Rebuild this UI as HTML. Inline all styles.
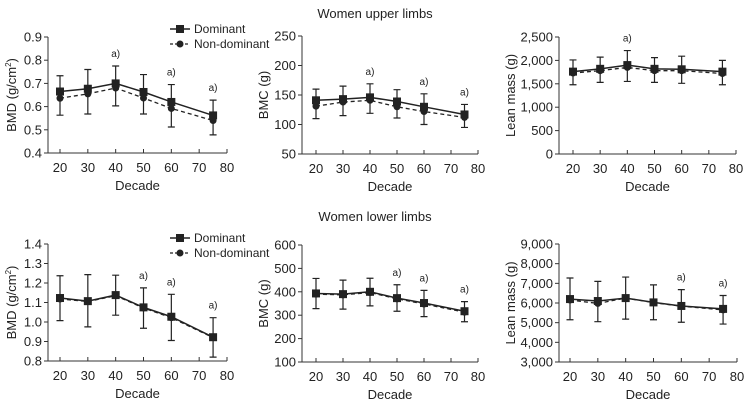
<!DOCTYPE html>
<html><head><meta charset="utf-8"><style>
body{margin:0;background:#fff}
svg{display:block;font-family:"Liberation Sans Narrow","Liberation Sans",sans-serif;fill:#222}
</style></head><body>
<svg id="c" width="750" height="404" viewBox="0 0 750 404">
<text x="375" y="18" text-anchor="middle" font-size="13">Women upper limbs</text>
<text x="375" y="221" text-anchor="middle" font-size="13">Women lower limbs</text>
</svg>
<script>
const decades=[20,30,40,50,60,75];
const xTicks=[20,30,40,50,60,70,80];
// upper BMD
const p1Dom=[.665,.677,.700,.663,.620,.562], p1DomSd=[.068,.083,.075,.075,.075,.066];
const p1Nd=[.636,.655,.680,.637,.592,.540], p1NdSd=[.073,.087,.077,.069,.080,.062];
const p1Ticks=[0.4,0.5,0.6,0.7,0.8,0.9], p1Labels=["0.4","0.5","0.6","0.7","0.8","0.9"], p1Sig=[40,60,75];
// upper BMC
const p2Dom=[141,143,146,139,130,117], p2DomSd=[19,22,23,20,22,17];
const p2Nd=[131,138,141,130,122,112], p2NdSd=[21,23,22,19,22,17];
const p2Ticks=[50,100,150,200,250], p2Labels=["50","100","150","200","250"], p2Sig=[40,60,75];
// upper lean
const p3Dom=[1760,1820,1900,1820,1810,1760], p3DomSd=[250,250,310,240,280,240];
const p3Nd=[1730,1780,1850,1780,1780,1720], p3NdSd=[250,250,300,250,270,240];
const p3Ticks=[0,500,1000,1500,2000,2500], p3Labels=["0","500","1,000","1,500","2,000","2,500"], p3Sig=[40];
// lower BMD
const p4Dom=[1.123,1.107,1.138,1.075,1.027,.922], p4DomSd=[.114,.136,.102,.100,.115,.100];
const p4Nd=[1.118,1.105,1.135,1.072,1.022,.920], p4NdSd=[.111,.130,.100,.104,.117,.100];
const p4Ticks=[0.8,0.9,1.0,1.1,1.2,1.3,1.4], p4Labels=["0.8","0.9","1.0","1.1","1.2","1.3","1.4"], p4Sig=[50,60,75];
// lower BMC
const p5Dom=[393,390,400,373,352,317], p5DomSd=[64,60,58,57,54,41];
const p5Nd=[390,387,397,370,348,313], p5NdSd=[62,61,57,53,54,41];
const p5Ticks=[100,200,300,400,500,600], p5Labels=["100","200","300","400","500","600"], p5Sig=[50,60,75];
// lower lean
const p6Dom=[6200,6100,6250,6030,5850,5700], p6DomSd=[1070,1000,1070,890,830,680];
const p6Nd=[6150,5980,6250,6020,5840,5650], p6NdSd=[1000,930,1070,870,820,720];
const p6Ticks=[3000,4000,5000,6000,7000,8000,9000], p6Labels=["3,000","4,000","5,000","6,000","7,000","8,000","9,000"], p6Sig=[60,75];

const svg=document.getElementById('c');const NS='http://www.w3.org/2000/svg';
function mk(t,a,p){const e=document.createElementNS(NS,t);for(const k in a)e.setAttribute(k,a[k]);(p||svg).appendChild(e);return e;}
function panel(id,o){
 const g=mk('g',{});
 
 
 const X=v=>o.x20+(v-20)*(o.x80-o.x20)/60;
 const y0=o.ticks[0],y1=o.ticks[o.ticks.length-1];
 const Y=v=>o.yb+(v-y0)*(o.yt-o.yb)/(y1-y0);
 const ax=mk('path',{d:`M${o.left},${o.yt}V${o.yb}H${o.x80}`,stroke:'#333','stroke-width':1,fill:'none'},g);
 
 
 o.ticks.forEach((t,i)=>{mk('line',{x1:o.left-4,x2:o.left,y1:Y(t),y2:Y(t),stroke:'#333'},g);
  const tx=mk('text',{x:o.left-6,y:Y(t)+4.5,'text-anchor':'end','font-size':13},g);tx.textContent=o.labels[i];
  
  });
 xTicks.forEach(t=>{mk('line',{x1:X(t),x2:X(t),y1:o.yb,y2:o.yb-4,stroke:'#333'},g);
  const tx=mk('text',{x:X(t),y:o.yb+19,'text-anchor':'middle','font-size':13},g);tx.textContent=t;
  
  });
 const xl=mk('text',{x:(o.left+o.x80)/2,y:o.yb+37,'text-anchor':'middle','font-size':13},g);xl.textContent='Decade';
 
 
 const yl=mk('text',{x:0,y:0,'text-anchor':'middle','font-size':13,transform:`translate(${o.ylx},${(o.yt+o.yb)/2}) rotate(-90)`},g);yl.innerHTML=o.ylabel;
 
 
 // error bars
 decades.forEach((d,i)=>{const x=X(d);
  const up=Y(o.dom[i]+o.domSd[i]), lo=Y(o.nd[i]-o.ndSd[i]);
  const eb=mk('path',{d:`M${x},${up}V${lo}M${x-3.5},${up}H${x+3.5}M${x-3.5},${lo}H${x+3.5}`,stroke:'#222','stroke-width':1.2,fill:'none'},g);
  
  });
 const lnd=mk('polyline',{points:decades.map((d,i)=>X(d)+','+Y(o.nd[i])).join(' '),fill:'none',stroke:'#222','stroke-width':1.3,'stroke-dasharray':'4,3'},g);
 
 
 const ld=mk('polyline',{points:decades.map((d,i)=>X(d)+','+Y(o.dom[i])).join(' '),fill:'none',stroke:'#222','stroke-width':1.5},g);
 
 
 decades.forEach((d,i)=>{const c=mk('circle',{cx:X(d),cy:Y(o.nd[i]),r:3.5,fill:'#222'},g);
  
  
  const s=mk('rect',{x:X(d)-4,y:Y(o.dom[i])-4,width:8,height:8,fill:'#222'},g);
  
  });
 o.sig.forEach(d=>{const i=decades.indexOf(d);const t=mk('text',{x:X(d),y:Y(o.dom[i]+o.domSd[i])-9,'text-anchor':'middle','font-size':10},g);t.textContent='a)';
  
  });
 if(o.legendY){const L=mk('g',{},g);
  
  
  const ly=o.legendY;
  mk('line',{x1:170,x2:190,y1:ly,y2:ly,stroke:'#222','stroke-width':1.4},L);
  mk('rect',{x:176,y:ly-4,width:8,height:8,fill:'#222'},L);
  let t=mk('text',{x:194,y:ly+4,'font-size':12},L);t.textContent='Dominant';
  mk('line',{x1:170,x2:190,y1:ly+15,y2:ly+15,stroke:'#222','stroke-width':1.3,'stroke-dasharray':'3,2'},L);
  mk('circle',{cx:180,cy:ly+15,r:3.5,fill:'#222'},L);
  t=mk('text',{x:194,y:ly+19,'font-size':12},L);t.textContent='Non-dominant';}
}
panel('upper-bmd-chart',{left:48,x20:60,x80:227,yt:37,yb:153,ticks:p1Ticks,labels:p1Labels,dom:p1Dom,domSd:p1DomSd,nd:p1Nd,ndSd:p1NdSd,sig:p1Sig,ylx:16,ylabel:'BMD (g/cm<tspan font-size="8" dy="-5">2</tspan><tspan dy="5">)</tspan>',legendY:29});
panel('upper-bmc-chart',{left:302,x20:316,x80:478,yt:36,yb:154,ticks:p2Ticks,labels:p2Labels,dom:p2Dom,domSd:p2DomSd,nd:p2Nd,ndSd:p2NdSd,sig:p2Sig,ylx:268,ylabel:'BMC (g)'});
panel('upper-lean-chart',{left:559,x20:573,x80:736,yt:37,yb:154,ticks:p3Ticks,labels:p3Labels,dom:p3Dom,domSd:p3DomSd,nd:p3Nd,ndSd:p3NdSd,sig:p3Sig,ylx:515,ylabel:'Lean mass (g)'});
panel('lower-bmd-chart',{left:48,x20:60,x80:227,yt:244,yb:361,ticks:p4Ticks,labels:p4Labels,dom:p4Dom,domSd:p4DomSd,nd:p4Nd,ndSd:p4NdSd,sig:p4Sig,ylx:16,ylabel:'BMD (g/cm<tspan font-size="8" dy="-5">2</tspan><tspan dy="5">)</tspan>',legendY:238});
panel('lower-bmc-chart',{left:302,x20:316,x80:478,yt:245,yb:362,ticks:p5Ticks,labels:p5Labels,dom:p5Dom,domSd:p5DomSd,nd:p5Nd,ndSd:p5NdSd,sig:p5Sig,ylx:268,ylabel:'BMC (g)'});
panel('lower-lean-chart',{left:559,x20:570,x80:737,yt:244,yb:362,ticks:p6Ticks,labels:p6Labels,dom:p6Dom,domSd:p6DomSd,nd:p6Nd,ndSd:p6NdSd,sig:p6Sig,ylx:515,ylabel:'Lean mass (g)'});
</script>
</body></html>
